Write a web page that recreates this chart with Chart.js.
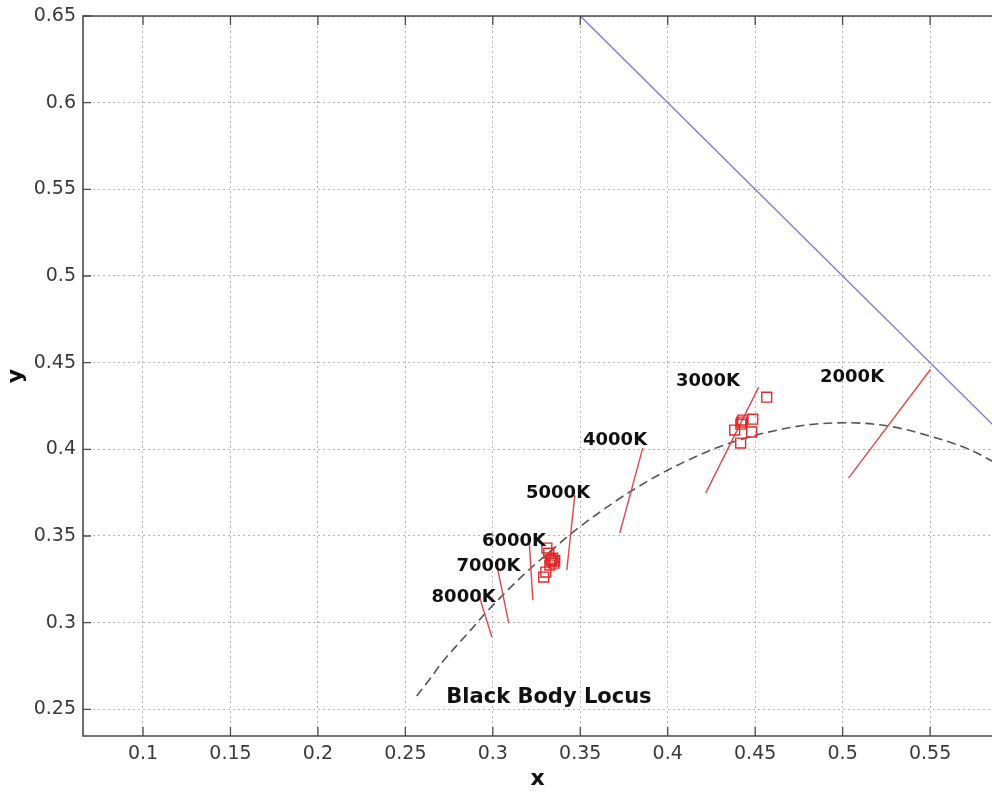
<!DOCTYPE html>
<html>
<head>
<meta charset="utf-8">
<script src="https://cdn.jsdelivr.net/npm/chart.js@4.4.1/dist/chart.umd.min.js"></script>
<style>
  html, body { margin: 0; padding: 0; background: #ffffff; }
  canvas { display: block; }
</style>
</head>
<body>
<canvas id="c" width="992" height="792"></canvas>
<script>
// ---- axis ranges & ticks ----
const xRange = [0.0657, 0.5854];
const yRange = [0.2346, 0.65];
const xTicks = [0.1, 0.15, 0.2, 0.25, 0.3, 0.35, 0.4, 0.45, 0.5, 0.55];
const yTicks = [0.25, 0.3, 0.35, 0.4, 0.45, 0.5, 0.55, 0.6, 0.65];

// ---- x + y = 1 line (blue) ----
const lineX = [0.35, 0.6];
const lineY = [0.65, 0.4];

// ---- black body locus (dashed) ----
const locusX = [0.2565, 0.2637, 0.2712, 0.2807, 0.2869, 0.2952, 0.3064, 0.3135, 0.3221, 0.3325, 0.3451, 0.3608, 0.3805, 0.4053, 0.4369, 0.4770, 0.5033, 0.5267, 0.5486, 0.5730, 0.5857];
const locusY = [0.2577, 0.2671, 0.2773, 0.2883, 0.2952, 0.3048, 0.3166, 0.3237, 0.3318, 0.3408, 0.3516, 0.3635, 0.3768, 0.3907, 0.4041, 0.4137, 0.4153, 0.4133, 0.4080, 0.3997, 0.3931];

// ---- iso-temperature segments (red) ----
const isoNames = ['2000K', '3000K', '4000K', '5000K', '6000K', '7000K', '8000K'];
const isoX1 = [0.5034, 0.4217, 0.3726, 0.3423, 0.3229, 0.3091, 0.2994];
const isoY1 = [0.3834, 0.3747, 0.3517, 0.3303, 0.3130, 0.2997, 0.2917];
const isoX2 = [0.5503, 0.4520, 0.3857, 0.3469, 0.3206, 0.3029, 0.2926];
const isoY2 = [0.4462, 0.4359, 0.4007, 0.3736, 0.3499, 0.3303, 0.3142];

// ---- measured samples (red squares) ----
const sampleX = [0.4566, 0.4486, 0.4423, 0.4429, 0.4418, 0.4383, 0.4480, 0.4417,
                 0.3309, 0.3320, 0.3343, 0.3337, 0.3349, 0.3326, 0.3303, 0.3291, 0.3331, 0.3354];
const sampleY = [0.4301, 0.4174, 0.4157, 0.4169, 0.4145, 0.4111, 0.4100, 0.4036,
                 0.3430, 0.3401, 0.3372, 0.3355, 0.3343, 0.3332, 0.3292, 0.3263, 0.3363, 0.3357];

// ---- text annotations ----
const labelText = ['2000K', '3000K', '4000K', '5000K', '6000K', '7000K', '8000K', 'Black Body Locus'];
const labelX = [0.5054, 0.4230, 0.3699, 0.3373, 0.3121, 0.2975, 0.2833, 0.3321];
const labelY = [0.4428, 0.4403, 0.4062, 0.3759, 0.3480, 0.3333, 0.3159, 0.2580];
const labelSize = [18, 18, 18, 18, 18, 18, 18, 21];

const zip = (xs, ys) => xs.map((x, i) => ({ x: x, y: ys[i] }));

const datasets = [];
datasets.push({
  label: 'x+y=1', data: zip(lineX, lineY), showLine: true,
  borderColor: '#8080dd', borderWidth: 1.5, pointRadius: 0, clip: 0, order: 5
});
datasets.push({
  label: 'Black Body Locus', data: zip(locusX, locusY), showLine: true,
  borderColor: '#555555', borderWidth: 1.6, borderDash: [9, 5], pointRadius: 0,
  tension: 0.3, cubicInterpolationMode: 'monotone', clip: 0, order: 4
});
isoNames.forEach((n, i) => {
  datasets.push({
    label: n, data: [{ x: isoX1[i], y: isoY1[i] }, { x: isoX2[i], y: isoY2[i] }],
    showLine: true, borderColor: '#dd4a4a', borderWidth: 1.4, pointRadius: 0, clip: 0, order: 3
  });
});
datasets.push({
  label: 'samples', data: zip(sampleX, sampleY), showLine: false,
  pointStyle: 'rect', pointRadius: 7, pointBorderColor: '#e02a2a',
  pointBackgroundColor: 'rgba(0,0,0,0)', pointBorderWidth: 1.4, order: 1
});

const framePlugin = {
  id: 'frame',
  afterDraw(chart) {
    const { ctx, chartArea: a, scales } = chart;
    ctx.save();
    ctx.setLineDash([]);
    ctx.strokeStyle = '#4a4a4a';
    ctx.lineWidth = 1.6;
    ctx.beginPath();
    ctx.moveTo(a.right + 2, a.top); ctx.lineTo(a.left, a.top);
    ctx.lineTo(a.left, a.bottom); ctx.lineTo(a.right + 2, a.bottom);
    ctx.stroke();
    // inward ticks
    ctx.lineWidth = 1.3;
    ctx.beginPath();
    xTicks.forEach(v => {
      const px = scales.x.getPixelForValue(v);
      ctx.moveTo(px, a.bottom); ctx.lineTo(px, a.bottom - 9);
      ctx.moveTo(px, a.top); ctx.lineTo(px, a.top + 9);
    });
    yTicks.forEach(v => {
      const py = scales.y.getPixelForValue(v);
      ctx.moveTo(a.left, py); ctx.lineTo(a.left + 8, py);
    });
    ctx.stroke();
    // text annotations
    ctx.fillStyle = '#111111';
    ctx.textAlign = 'center';
    ctx.textBaseline = 'alphabetic';
    labelText.forEach((t, i) => {
      const fs = labelSize[i];
      ctx.font = 'bold ' + fs + 'px "DejaVu Sans", sans-serif';
      const px = scales.x.getPixelForValue(labelX[i]);
      const py = scales.y.getPixelForValue(labelY[i]);
      ctx.fillText(t, px, py + 0.729 * fs / 2);
    });
    ctx.restore();
  }
};

new Chart(document.getElementById('c'), {
  type: 'scatter',
  data: { datasets: datasets },
  options: {
    responsive: false,
    devicePixelRatio: 1,
    animation: false,
    layout: { autoPadding: false, padding: { left: 0, right: 0, top: 16, bottom: 0 } },
    plugins: { legend: { display: false }, tooltip: { enabled: false } },
    scales: {
      x: {
        type: 'linear', min: xRange[0], max: xRange[1],
        afterBuildTicks: s => { s.ticks = xTicks.map(v => ({ value: v })); },
        afterFit: s => { s.height = 56; s.paddingLeft = 0; s.paddingRight = 0; },
        ticks: {
          callback: v => String(+v.toFixed(2)), color: '#3a3a3a', padding: 7,
          maxRotation: 0, autoSkip: false,
          font: { family: '"DejaVu Sans", sans-serif', size: 19 }
        },
        grid: { color: '#b4b4b4', lineWidth: 1, drawTicks: false },
        border: { display: false, dash: [2, 3] },
        title: {
          display: true, text: 'x', color: '#111111', padding: { top: 0, bottom: 0 },
          font: { family: '"DejaVu Sans", sans-serif', size: 22, weight: 'bold' }
        }
      },
      y: {
        type: 'linear', min: yRange[0], max: yRange[1],
        afterBuildTicks: s => { s.ticks = yTicks.map(v => ({ value: v })); },
        afterFit: s => { s.width = 83; s.paddingTop = 0; s.paddingBottom = 0; },
        ticks: {
          callback: v => String(+v.toFixed(2)), color: '#3a3a3a', padding: 7,
          autoSkip: false,
          font: { family: '"DejaVu Sans", sans-serif', size: 19 }
        },
        grid: { color: '#b4b4b4', lineWidth: 1, drawTicks: false },
        border: { display: false, dash: [2, 3] },
        title: {
          display: true, text: 'y', color: '#111111', padding: { top: 3, bottom: 0 },
          font: { family: '"DejaVu Sans", sans-serif', size: 22, weight: 'bold' }
        }
      }
    }
  },
  plugins: [framePlugin]
});
</script>
</body>
</html>
